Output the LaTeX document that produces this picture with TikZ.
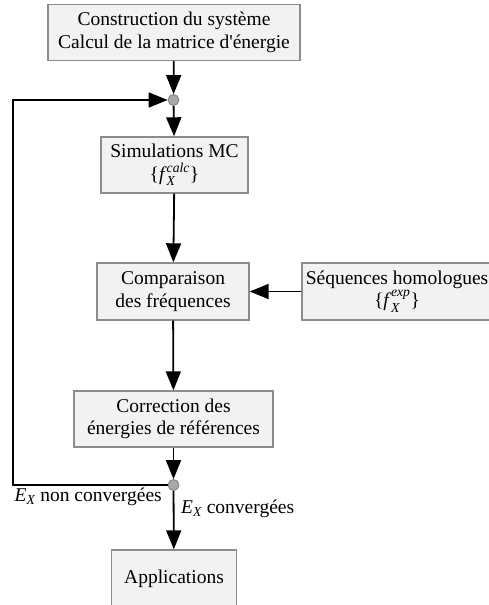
\documentclass[tikz,border=0pt]{standalone}
\usepackage{amsmath}
\usepackage{fontspec}
\setmainfont{Liberation Serif}
\usetikzlibrary{arrows.meta}
\definecolor{boxfill}{HTML}{F2F2F2}
\definecolor{boxline}{HTML}{8C8C8C}
\definecolor{dotfill}{HTML}{A8A8A8}
\definecolor{dotline}{HTML}{7F7F7F}
\newcommand{\itx}[1]{\text{\itshape #1}}
\begin{document}
\begin{tikzpicture}[x=1pt,y=-1pt,
  box/.style={draw=boxline,fill=boxfill,line width=1.4pt,align=center,inner sep=2pt,
    font=\fontsize{19.5}{22.5}\selectfont},
  jdot/.style={circle,draw=dotline,fill=dotfill,line width=0.8pt,minimum size=11pt,inner sep=0pt},
  conn/.style={line width=1.8pt,-{Triangle[length=19pt,width=15pt]}},
  lbl/.style={font=\fontsize{19.5}{22.5}\selectfont,inner sep=0pt}]
\useasboundingbox (0,0) rectangle (488,605);
\node[box,minimum width=252pt,minimum height=56pt] (b1) at (174,32.5)
  {Construction du système\\Calcul de la matrice d\textquotesingle énergie};
\node[jdot] (d1) at (173.5,100) {};
\node[box,minimum width=147pt,minimum height=56pt] (b2) at (174.5,165)
  {Simulations MC\\\{\textit{f}$_{\itx{X}}^{\itx{calc}}$\}};
\node[box,minimum width=152pt,minimum height=57pt] (b3) at (173,291.5)
  {Comparaison\\des fréquences};
\node[box,minimum width=190pt,minimum height=57pt] (seq) at (397,291.5)
  {Séquences homologues\\\{\textit{f}$_{\itx{X}}^{\itx{exp}}$\}};
\node[box,minimum width=199pt,minimum height=56pt] (b4) at (173.5,419)
  {Correction des\\énergies de références};
\node[jdot] (d2) at (173.5,485) {};
\node[box,minimum width=125pt,minimum height=57pt] (b5) at (174,578.5) {Applications};
\coordinate (lb) at (13,485);
\coordinate (lt) at (13,100);
\draw[conn] (b1) -- (d1);
\draw[conn] (d1) -- (b2);
\draw[conn] (b2) -- (b3);
\draw[conn] (seq) -- (b3);
\draw[conn] (b3) -- (b4);
\draw[conn] (b4) -- (d2);
\draw[conn] (d2) -- (b5);
\draw[conn] (d2.west) -- (lb) -- (lt) -- (d1);
\node[lbl,anchor=east] (nc) at (162,497) {\textit{E}$_{\itx{X}}$ non convergées};
\node[lbl,anchor=west] (cv) at (181,509) {\textit{E}$_{\itx{X}}$ convergées};
\end{tikzpicture}
\end{document}
